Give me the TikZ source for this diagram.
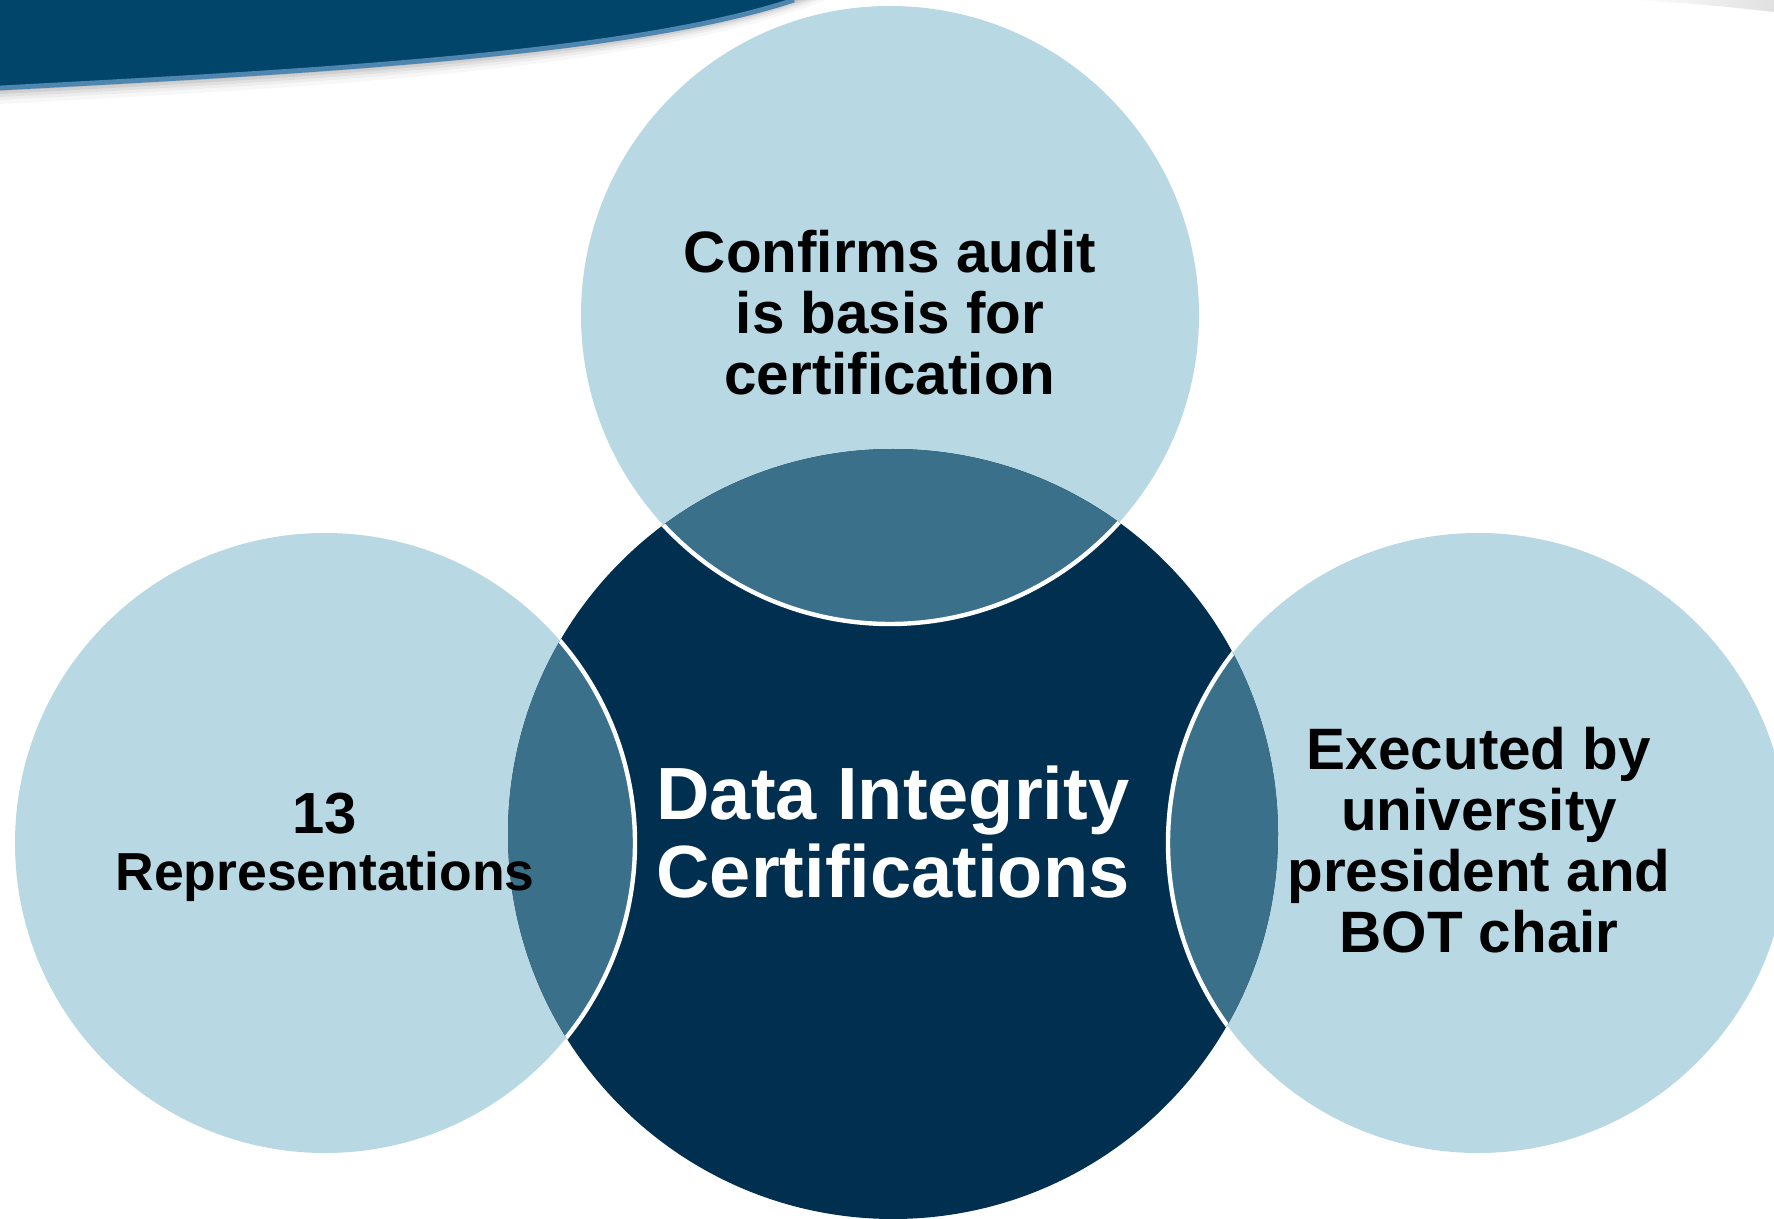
\documentclass[tikz,border=0pt]{standalone}
\usepackage{fontspec}
\setmainfont{Liberation Sans}
\definecolor{lightc}{HTML}{B8D8E3}
\definecolor{darkc}{HTML}{012F4F}
\definecolor{lensc}{HTML}{3A7089}
\definecolor{bannerc}{HTML}{02456A}
\definecolor{edgec}{HTML}{4F86B0}
\tikzset{
  lighttext/.style={text=black, align=center, font=\bfseries\fontsize{29.2}{30.5}\selectfont},
  centertext/.style={text=white, align=center, font=\bfseries\fontsize{37}{39}\selectfont},
  ring/.style={draw=white, line width=2.2}
}
\begin{document}
\begin{tikzpicture}[x=0.5pt,y=0.5pt]
\useasboundingbox (0,0) rectangle (1774,-1219);
\fill[white] (0,0) rectangle (1774,-1219);

% centres
\coordinate (ct) at (890,-315);
\coordinate (cl) at (325,-843);
\coordinate (cr) at (1478,-843);
\coordinate (cc) at (893,-834);

% banner shadow
\foreach \d/\o in {16/0.03,12/0.04,9/0.05,6/0.07,3/0.09}{
  \fill[black, opacity=\o] (0,0) -- (794+\d*2,0) .. controls (628+\d,-55-\d) and (300,-72-\d) .. (0,-88-\d) -- cycle;
}
% banner
\fill[bannerc] (0,0) -- (794,0) .. controls (628,-55) and (300,-72) .. (0,-88) -- cycle;
\draw[edgec, line width=2.4] (794,0) .. controls (628,-55) and (300,-72) .. (0,-88);

% faint shadow at top right
\shade[left color=white, right color=black!20, opacity=0.6] (1630,0) -- (1774,0) -- (1774,-12) .. controls (1730,-7) and (1680,-2) .. (1630,0) -- cycle;

% light circles
\fill[lightc] (ct) circle (309);
\fill[lightc] (cl) circle (310);
\fill[lightc] (cr) circle (310);
% dark circle
\fill[darkc] (cc) circle (385);
% lenses
\begin{scope}
  \clip (cc) circle (385);
  \fill[lensc] (ct) circle (309);
  \fill[lensc] (cl) circle (310);
  \fill[lensc] (cr) circle (310);
  \draw[ring] (ct) circle (309);
  \draw[ring] (cl) circle (310);
  \draw[ring] (cr) circle (310);
\end{scope}

% texts
\node[lighttext] (ttop) at (890,-313) {Confirms audit\\is basis for\\certification};
\node[centertext] (tcen) at (893,-832) {Data Integrity\\Certifications};
\node[lighttext, font=\bfseries\fontsize{26.75}{28.5}\selectfont] (tleft) at (325,-847) {{\fontsize{29}{28.5}\selectfont 13}\\Representations};
\node[lighttext] (tright) at (1479,-840) {Executed by\\university\\president and\\BOT chair};
\end{tikzpicture}
\end{document}
